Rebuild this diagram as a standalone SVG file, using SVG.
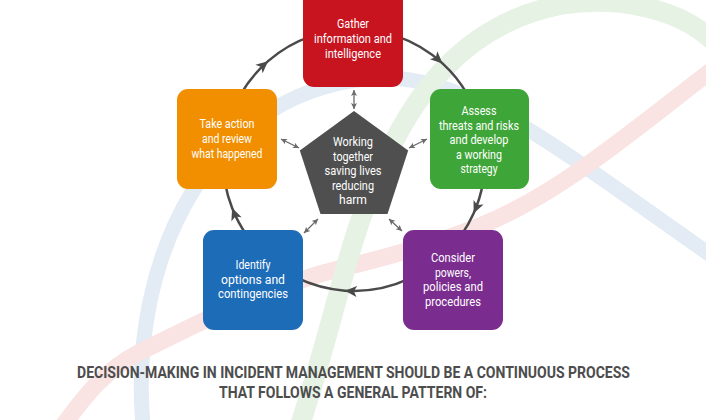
<svg xmlns="http://www.w3.org/2000/svg" width="706" height="420" viewBox="0 0 706 420">
<style>
.band{fill:none;stroke-linecap:butt}
.box text{font-family:"Roboto","Liberation Sans",sans-serif;font-size:12.5px;fill:#ffffff;text-anchor:middle}
.cyc{fill:none;stroke:#4a4a4a;stroke-width:2.5;marker-mid:url(#ah)}
.dbl{fill:none;stroke:#6a6a6a;stroke-width:1.3;marker-start:url(#sa);marker-end:url(#sa)}
.cap{font-family:"Roboto","Liberation Sans",sans-serif;font-size:16.5px;font-weight:bold;fill:#4d4d4d;text-anchor:middle}
</style>
<defs>
<marker id="ah" markerUnits="userSpaceOnUse" markerWidth="16" markerHeight="14" viewBox="-14 -7 16 14" refX="0" refY="0" orient="auto">
<path d="M0,0 L-12,-5.5 L-9,0 L-12,5.5 Z" fill="#4a4a4a"/>
</marker>
<marker id="sa" markerUnits="userSpaceOnUse" markerWidth="8" markerHeight="8" viewBox="-7 -4 8 8" refX="0" refY="0" orient="auto-start-reverse">
<path d="M0,0 L-6,-3 L-4.5,0 L-6,3 Z" fill="#6a6a6a"/>
</marker>
</defs>
<rect width="706" height="420" fill="#ffffff"/>
<g id="background">
<path class="band" d="M143,425 C128,260 210,85 380,78 C470,75 560,150 712,256" stroke="#e3ebf5" stroke-width="15"/>
<path class="band" d="M60,430 C85,395 105,370 140,352 C200,322 260,292 320,274 C360,263 420,250 480,226 C560,194 640,125 712,70" stroke="#f9e3e3" stroke-width="17"/>
<path class="band" d="M300,425 C335,320 345,250 378,175 C410,100 460,25 560,5 C620,-5 680,10 712,40" stroke="#e6f2e4" stroke-width="20"/>
</g>
<g id="connectors">
<path class="cyc" d="M396.65,36.14 A131,131 0 0 1 442.50,63.41 A131,131 0 0 1 467.45,94.5"/>
<path class="cyc" d="M483.01,182.75 A131,131 0 0 1 473.67,213.28 A131,131 0 0 1 461.31,235.14"/>
<path class="cyc" d="M409.36,278.73 A131,131 0 0 1 344.86,290.69 A131,131 0 0 1 296.57,277.74"/>
<path class="cyc" d="M246.69,235.14 A131,131 0 0 1 232.12,208.01 A131,131 0 0 1 224.99,182.75"/>
<path class="cyc" d="M240.55,94.5 A131,131 0 0 1 268.05,61.14 A131,131 0 0 1 311.35,36.14"/>
<path class="dbl" d="M354,90 L354,109"/>
<path class="dbl" d="M281,139 L299,148"/>
<path class="dbl" d="M409,148 L427,139"/>
<path class="dbl" d="M318,219 L304,233"/>
<path class="dbl" d="M389,219 L402,231"/>
</g>
<g id="gather" class="box">
<rect x="303" y="-12" width="100" height="99" rx="11" fill="#c8141f"/>
<text x="353" y="28" textLength="32" lengthAdjust="spacingAndGlyphs">Gather</text>
<text x="353" y="43" textLength="78" lengthAdjust="spacingAndGlyphs">information and</text>
<text x="353" y="58" textLength="56" lengthAdjust="spacingAndGlyphs">intelligence</text>
</g>
<g id="assess" class="box">
<rect x="430" y="89" width="99" height="100" rx="11" fill="#3ea638"/>
<text x="479" y="115" textLength="35" lengthAdjust="spacingAndGlyphs">Assess</text>
<text x="479" y="129.5" textLength="80" lengthAdjust="spacingAndGlyphs">threats and risks</text>
<text x="479" y="144" textLength="59" lengthAdjust="spacingAndGlyphs">and develop</text>
<text x="479" y="158.5" textLength="46" lengthAdjust="spacingAndGlyphs">a working</text>
<text x="479" y="173" textLength="37" lengthAdjust="spacingAndGlyphs">strategy</text>
</g>
<g id="consider" class="box">
<rect x="403" y="230" width="100" height="100" rx="11" fill="#7b2d8f"/>
<text x="453" y="262" textLength="44" lengthAdjust="spacingAndGlyphs">Consider</text>
<text x="453" y="276.5" textLength="36" lengthAdjust="spacingAndGlyphs">powers,</text>
<text x="453" y="291" textLength="60" lengthAdjust="spacingAndGlyphs">policies and</text>
<text x="453" y="305.5" textLength="56" lengthAdjust="spacingAndGlyphs">procedures</text>
</g>
<g id="identify" class="box">
<rect x="203" y="230" width="100" height="100" rx="11" fill="#1d6cb8"/>
<text x="253" y="269" textLength="35" lengthAdjust="spacingAndGlyphs">Identify</text>
<text x="253" y="283.5" textLength="64" lengthAdjust="spacingAndGlyphs">options and</text>
<text x="253" y="298" textLength="70" lengthAdjust="spacingAndGlyphs">contingencies</text>
</g>
<g id="takeaction" class="box">
<rect x="177" y="89" width="100" height="100" rx="11" fill="#f18f00"/>
<text x="227" y="128" textLength="55" lengthAdjust="spacingAndGlyphs">Take action</text>
<text x="227" y="143" textLength="50" lengthAdjust="spacingAndGlyphs">and review</text>
<text x="227" y="158" textLength="71" lengthAdjust="spacingAndGlyphs">what happened</text>
</g>
<g id="centre" class="box">
<polygon points="354,111 408.2,150.4 387.5,214.1 320.5,214.1 299.8,150.4" fill="#4f4f4f"/>
<text x="353" y="146" textLength="40" lengthAdjust="spacingAndGlyphs" fill="#eeeeee">Working</text>
<text x="353" y="160.5" textLength="40" lengthAdjust="spacingAndGlyphs">together</text>
<text x="353" y="175" textLength="57" lengthAdjust="spacingAndGlyphs">saving lives</text>
<text x="353" y="189.5" textLength="42" lengthAdjust="spacingAndGlyphs">reducing</text>
<text x="353" y="204" textLength="28" lengthAdjust="spacingAndGlyphs">harm</text>
</g>
<g id="caption">
<text class="cap" transform="translate(353.5,378) scale(0.8,1)" x="0" y="0" textLength="691" lengthAdjust="spacingAndGlyphs">DECISION-MAKING IN INCIDENT MANAGEMENT SHOULD BE A CONTINUOUS PROCESS</text>
<text class="cap" transform="translate(353,398) scale(0.8,1)" x="0" y="0" textLength="335" lengthAdjust="spacingAndGlyphs">THAT FOLLOWS A GENERAL PATTERN OF:</text>
</g>
</svg>
